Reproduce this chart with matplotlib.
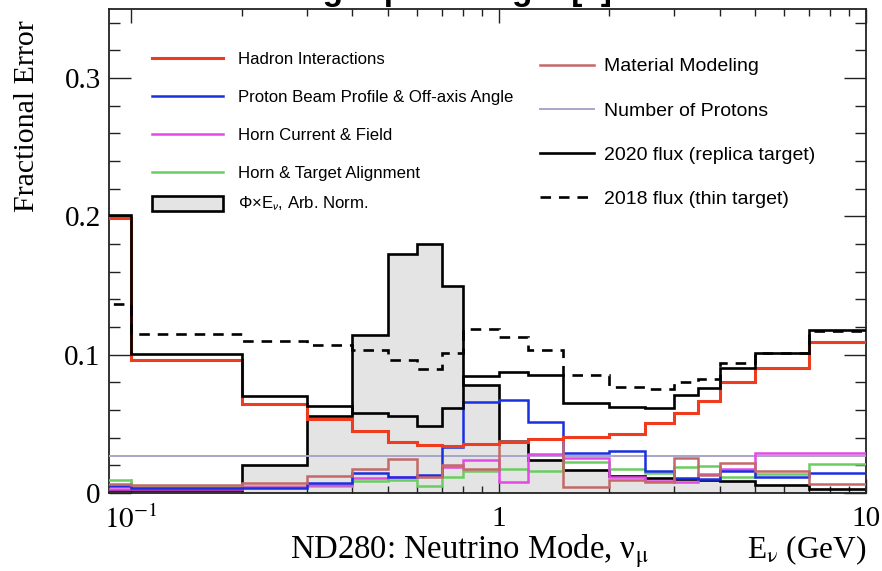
import matplotlib
matplotlib.use("Agg")
import matplotlib.pyplot as plt
from matplotlib.lines import Line2D
from matplotlib.patches import Patch
from matplotlib.ticker import FixedLocator, FixedFormatter, MultipleLocator

# energy bins (GeV); first bin runs off the left edge of the axis
bin_edges = [0.05, 0.1, 0.2, 0.3, 0.4, 0.5, 0.6, 0.7, 0.8, 1.0, 1.2, 1.5,
             2.0, 2.5, 3.0, 3.5, 4.0, 5.0, 7.0, 10.0]

hadron = [0.199, 0.0964, 0.0645, 0.0538, 0.0449, 0.0372, 0.0348, 0.0340, 0.0353,
          0.0368, 0.0389, 0.0405, 0.0430, 0.0505, 0.0582, 0.0662, 0.0800, 0.0903, 0.1089]
beam_profile = [0.0050, 0.0035, 0.0035, 0.0075, 0.0143, 0.0118, 0.0130, 0.0336, 0.0657,
                0.0674, 0.0517, 0.0292, 0.0307, 0.0162, 0.0106, 0.0099, 0.0160, 0.0118, 0.0143]
horn_current = [0.0027, 0.0027, 0.0040, 0.0060, 0.0106, 0.0118, 0.0125, 0.0185, 0.0239,
                0.0082, 0.0283, 0.0251, 0.0118, 0.0089, 0.0080, 0.0140, 0.0170, 0.0290, 0.0290]
horn_alignment = [0.0095, 0.0045, 0.0048, 0.0050, 0.0090, 0.0095, 0.0052, 0.0118, 0.0160,
                  0.0172, 0.0162, 0.0227, 0.0172, 0.0147, 0.0188, 0.0197, 0.0118, 0.0135, 0.0210]
material = [0.0065, 0.0060, 0.0075, 0.0125, 0.0175, 0.0244, 0.0118, 0.0200, 0.0175,
            0.0378, 0.0390, 0.0046, 0.0094, 0.0082, 0.0254, 0.0130, 0.0215, 0.0162, 0.0068]
n_protons = [0.0268] * 19
total_2020 = [0.2007, 0.1005, 0.0703, 0.0626, 0.0577, 0.0560, 0.0486, 0.0614, 0.0848,
              0.0872, 0.0855, 0.0648, 0.0624, 0.0614, 0.0710, 0.0758, 0.0903, 0.1012, 0.1180]
total_2018 = [0.1367, 0.1150, 0.1097, 0.1072, 0.1034, 0.0964, 0.0896, 0.1012, 0.1188,
              0.1128, 0.1031, 0.0855, 0.0770, 0.0751, 0.0801, 0.0827, 0.0940, 0.1010, 0.1172]
flux_shape = [0.0020, 0.0020, 0.0203, 0.0555, 0.1142, 0.1725, 0.1804, 0.1500, 0.0780,
              0.0377, 0.0239, 0.0167, 0.0120, 0.0106, 0.0102, 0.0095, 0.0087, 0.0058, 0.0027]

c_red = "#f03c1e"
c_blue = "#1a2fe0"
c_mag = "#e448e6"
c_green = "#6acd62"
c_brown = "#c46868"
c_lav = "#a8a6c8"
c_fill = "#e4e4e4"

plt.rcParams["font.family"] = ["Liberation Serif", "DejaVu Serif"]
plt.rcParams["mathtext.fontset"] = "stix"
SANS = ["Liberation Sans", "DejaVu Sans"]

fig = plt.figure(figsize=(8.82, 5.71), dpi=100)
ax = fig.add_axes([109 / 882, 1 - 493 / 571, 757 / 882, 484 / 571])

ax.stairs(flux_shape, bin_edges, baseline=0, fill=True, facecolor=c_fill,
          edgecolor="none", zorder=1)
ax.stairs(flux_shape, bin_edges, baseline=0, color="black", lw=1.9, zorder=2)

lw = 1.8
ax.stairs(n_protons, bin_edges, baseline=None, color=c_lav, lw=1.4, zorder=3)
ax.stairs(horn_alignment, bin_edges, baseline=None, color=c_green, lw=lw, zorder=3)
ax.stairs(horn_current, bin_edges, baseline=None, color=c_mag, lw=lw, zorder=3)
ax.stairs(beam_profile, bin_edges, baseline=None, color=c_blue, lw=lw, zorder=3)
ax.stairs(material, bin_edges, baseline=None, color=c_brown, lw=lw, zorder=3)
ax.stairs(hadron, bin_edges, baseline=None, color=c_red, lw=2.2, zorder=4)
ax.stairs(total_2020, bin_edges, baseline=None, color="black", lw=1.9, zorder=5)
ax.stairs(total_2018, bin_edges, baseline=None, color="black", lw=1.9,
          linestyle=(0, (4, 3)), zorder=5)

ax.set_xscale("log")
ax.set_xlim(0.087, 10)
ax.set_ylim(0, 0.35)

ax.xaxis.set_major_locator(FixedLocator([0.1, 1, 10]))
ax.xaxis.set_major_formatter(FixedFormatter([r"$10^{-1}$", "1", "10"]))
minor_x = [m * d for d in (0.1, 1) for m in range(2, 10)]
ax.xaxis.set_minor_locator(FixedLocator(minor_x))
ax.xaxis.set_minor_formatter(FixedFormatter([""] * len(minor_x)))
ax.yaxis.set_major_locator(FixedLocator([0, 0.1, 0.2, 0.3]))
ax.yaxis.set_major_formatter(FixedFormatter(["0", "0.1", "0.2", "0.3"]))
ax.yaxis.set_minor_locator(MultipleLocator(0.02))

ax.tick_params(which="both", direction="in", top=True, right=True, width=1.0,
               colors="#222222", labelcolor="black", labelsize=21)
ax.tick_params(axis="x", which="major", length=10, pad=9)
ax.tick_params(axis="x", which="minor", length=5)
ax.tick_params(axis="y", which="major", length=16, pad=6)
ax.tick_params(axis="y", which="minor", length=8)
for s in ax.spines.values():
    s.set_linewidth(1.3)
    s.set_color("#222222")

fig.text(27 / 882, 1 - 116 / 571, "Fractional Error", fontsize=21.5, rotation=90,
         ha="center", va="center")
fig.text(866 / 882, 1 - 558 / 571, r"E$_{\mathrm{\nu}}$ (GeV)", fontsize=22.5,
         ha="right", va="baseline")
fig.text(290 / 882, 1 - 559 / 571, r"ND280: Neutrino Mode, ν$_{\mathrm{\mu}}$",
         fontsize=23.5, ha="left", va="baseline")

# heading above the frame, only its lower edge fits on the canvas
fig.text(612 / 882, 1.0, "Flux uncertainties using replica target [9]",
         family=SANS, fontsize=24, fontweight="bold", ha="right", va="baseline")

left_kw = dict(frameon=False, prop={"family": SANS, "size": 12.1},
               handlelength=4.23, handleheight=0.95, handletextpad=0.89,
               labelspacing=1.31, borderpad=0, borderaxespad=0, loc="upper left")
line_handles = [
    Line2D([], [], color=c_red, lw=2.2),
    Line2D([], [], color=c_blue, lw=lw),
    Line2D([], [], color=c_mag, lw=lw),
    Line2D([], [], color=c_green, lw=lw),
]
line_labels = ["Hadron Interactions", "Proton Beam Profile & Off-axis Angle",
               "Horn Current & Field", "Horn & Target Alignment"]
leg1 = ax.legend(line_handles, line_labels, bbox_to_anchor=(0.057, 0.913), **left_kw)
ax.add_artist(leg1)

# flux shape key sits a little closer to the lines above it
leg_flux = ax.legend([Patch(facecolor=c_fill, edgecolor="black", lw=1.9)],
                     [r"Φ×E$_{\mathsf{\nu}}$, Arb. Norm."],
                     bbox_to_anchor=(0.057, 0.6155), **left_kw)
ax.add_artist(leg_flux)

right_handles = [
    Line2D([], [], color=c_brown, lw=lw),
    Line2D([], [], color=c_lav, lw=1.4),
    Line2D([], [], color="black", lw=1.9),
    Line2D([], [], color="black", lw=1.9, linestyle=(0, (4, 3))),
]
right_labels = ["Material Modeling", "Number of Protons",
                "2020 flux (replica target)", "2018 flux (thin target)"]
ax.legend(right_handles, right_labels, loc="upper left",
          bbox_to_anchor=(0.569, 0.899), frameon=False,
          prop={"family": SANS, "size": 14},
          handlelength=2.78, handletextpad=0.52, labelspacing=1.36,
          borderpad=0, borderaxespad=0)

fig.savefig("out.png", dpi=100)
